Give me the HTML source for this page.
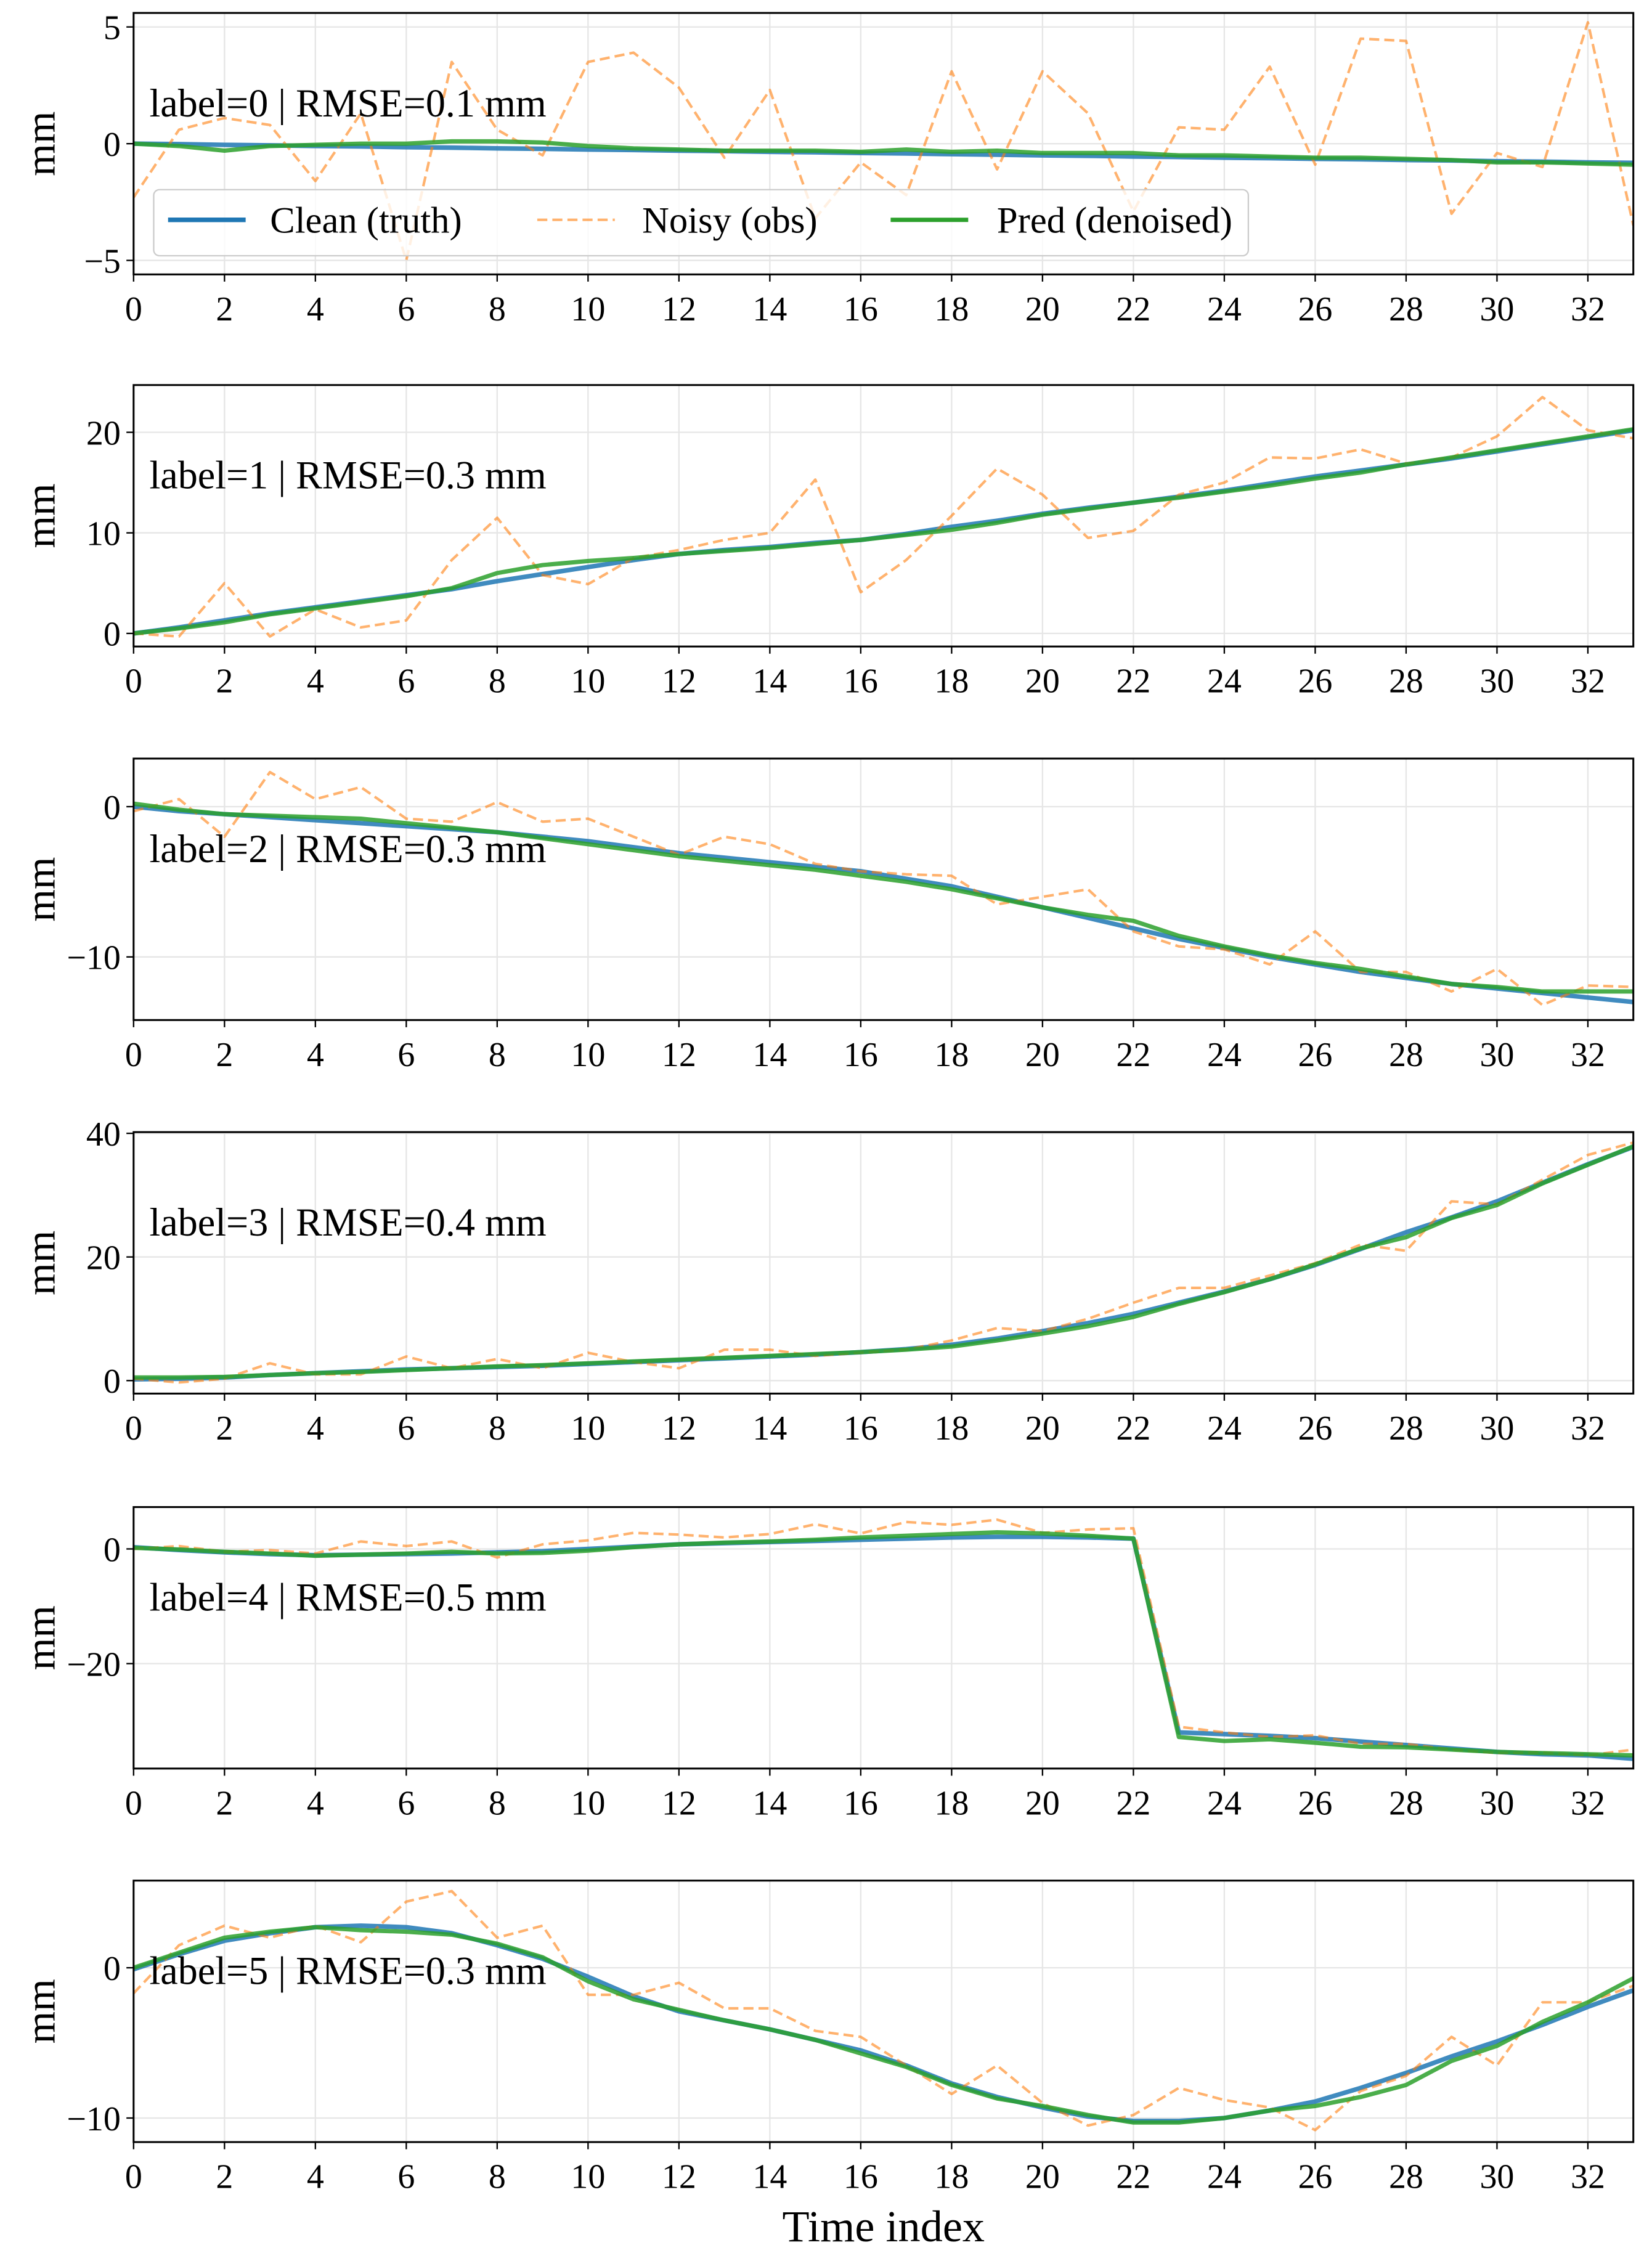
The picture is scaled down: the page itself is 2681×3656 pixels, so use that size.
<!DOCTYPE html>
<html><head><meta charset="utf-8">
<style>html,body{margin:0;padding:0;background:#fff}svg{display:block}text{font-family:"Liberation Serif",serif;fill:#000}</style>
</head><body>
<svg id="fig" width="2681" height="3656" viewBox="0 0 1150 1568.2" xmlns="http://www.w3.org/2000/svg"></svg>
<script>
const timeIdx = Array.from({length:34},(_,i)=>i);
const xTicks = [0,2,4,6,8,10,12,14,16,18,20,22,24,26,28,30,32];
const labels = ["label=0 | RMSE=0.1 mm","label=1 | RMSE=0.3 mm","label=2 | RMSE=0.3 mm","label=3 | RMSE=0.4 mm","label=4 | RMSE=0.5 mm","label=5 | RMSE=0.3 mm"];
const yTicks0=[-5,0,5], yTicks1=[0,10,20], yTicks2=[-10,0], yTicks3=[0,20,40], yTicks4=[-20,0], yTicks5=[-10,0];
const yLim0=[-5.6,5.6], yLim1=[-1.3,24.7], yLim2=[-14.2,3.2], yLim3=[-2.1,40.2], yLim4=[-38.3,7.3], yLim5=[-11.6,5.8];
const clean0=[0,-0.02,-0.05,-0.07,-0.1,-0.12,-0.15,-0.17,-0.2,-0.22,-0.25,-0.27,-0.3,-0.32,-0.35,-0.37,-0.4,-0.42,-0.45,-0.47,-0.5,-0.52,-0.55,-0.57,-0.6,-0.62,-0.65,-0.67,-0.7,-0.72,-0.75,-0.77,-0.8,-0.82];
const noisy0=[-2.3,0.6,1.1,0.8,-1.6,1.3,-5.0,3.5,0.6,-0.5,3.5,3.9,2.4,-0.6,2.3,-3.2,-0.8,-2.2,3.1,-1.1,3.1,1.3,-2.9,0.7,0.6,3.3,-0.9,4.5,4.4,-3.0,-0.4,-1.0,5.2,-3.5];
const pred0=[0,-0.1,-0.3,-0.1,-0.05,0,0,0.1,0.1,0.05,-0.1,-0.2,-0.25,-0.3,-0.3,-0.3,-0.35,-0.25,-0.35,-0.3,-0.4,-0.4,-0.4,-0.5,-0.5,-0.55,-0.6,-0.6,-0.65,-0.7,-0.8,-0.8,-0.85,-0.9];
const clean1=[0,0.6,1.3,2,2.6,3.2,3.8,4.4,5.2,5.9,6.6,7.3,7.9,8.3,8.6,9.0,9.3,9.9,10.6,11.2,11.9,12.5,13.0,13.6,14.2,14.9,15.6,16.2,16.8,17.4,18.1,18.8,19.5,20.2];
const noisy1=[0,-0.3,5.0,-0.3,2.4,0.6,1.3,7.3,11.5,5.8,4.9,7.5,8.3,9.3,10.0,15.3,4.1,7.3,11.7,16.4,13.8,9.5,10.2,13.8,15.0,17.5,17.4,18.3,16.9,17.5,19.6,23.5,20.2,19.4];
const pred1=[0,0.5,1.1,1.9,2.5,3.1,3.7,4.5,6.0,6.8,7.2,7.5,7.9,8.2,8.5,8.9,9.3,9.8,10.3,11.0,11.8,12.4,13.0,13.5,14.1,14.7,15.4,16.0,16.8,17.5,18.2,18.9,19.6,20.3];
const clean2=[0,-0.3,-0.5,-0.7,-0.9,-1.1,-1.3,-1.5,-1.7,-2.0,-2.3,-2.7,-3.1,-3.4,-3.7,-4.0,-4.3,-4.8,-5.3,-6.0,-6.7,-7.4,-8.1,-8.8,-9.4,-10.0,-10.5,-11.0,-11.4,-11.8,-12.1,-12.4,-12.7,-13.0];
const noisy2=[-0.3,0.5,-2.0,2.3,0.5,1.3,-0.8,-1.0,0.3,-1.0,-0.8,-2.0,-3.2,-2.0,-2.5,-3.8,-4.3,-4.5,-4.6,-6.5,-6.0,-5.5,-8.3,-9.3,-9.5,-10.5,-8.3,-11.0,-11.0,-12.3,-10.8,-13.2,-11.9,-12.0];
const pred2=[0.2,-0.2,-0.5,-0.6,-0.7,-0.8,-1.1,-1.4,-1.7,-2.1,-2.5,-2.9,-3.3,-3.6,-3.9,-4.2,-4.6,-5.0,-5.5,-6.1,-6.7,-7.2,-7.6,-8.6,-9.3,-9.9,-10.4,-10.8,-11.3,-11.8,-12.0,-12.3,-12.3,-12.3];
const clean3=[0.2,0.3,0.5,0.9,1.2,1.5,1.8,2.0,2.2,2.4,2.7,3.0,3.3,3.6,3.9,4.2,4.6,5.1,5.8,6.8,8.0,9.3,10.8,12.6,14.4,16.4,18.7,21.3,24.0,26.4,29.0,32.0,35.0,37.8];
const noisy3=[0.3,-0.3,0.3,2.8,1.0,1.0,3.9,2.0,3.5,2.0,4.5,3.0,2.0,5.0,5.0,4.0,4.5,5.0,6.5,8.5,8.0,10.0,12.6,15.0,15.0,17.0,19.0,22.0,21.0,29.0,28.5,32.5,36.5,38.5];
const pred3=[0.5,0.5,0.6,0.9,1.2,1.4,1.7,2.0,2.3,2.5,2.8,3.1,3.4,3.7,4.0,4.3,4.6,5.0,5.5,6.5,7.6,8.8,10.3,12.4,14.3,16.4,18.8,21.4,23.2,26.3,28.4,31.9,34.9,37.9];
const clean4=[0.3,-0.2,-0.6,-0.9,-1.1,-1.0,-0.9,-0.8,-0.6,-0.4,0,0.4,0.8,1.0,1.2,1.4,1.6,1.8,2.0,2.1,2.1,2.0,1.8,-32.0,-32.3,-32.6,-33.0,-33.6,-34.2,-34.8,-35.4,-35.8,-36.0,-36.6];
const noisy4=[0.0,0.5,-0.5,-0.2,-0.8,1.3,0.5,1.3,-1.5,0.8,1.5,2.8,2.5,2.0,2.6,4.3,2.7,4.7,4.2,5.1,2.8,3.4,3.6,-31.0,-32.0,-32.8,-32.5,-34.0,-34.0,-35.0,-35.6,-35.5,-36.0,-35.0];
const pred4=[0.2,-0.1,-0.5,-0.8,-1.2,-1.0,-0.8,-0.5,-0.8,-0.7,-0.3,0.3,0.8,1.1,1.3,1.6,2.0,2.3,2.6,2.9,2.7,2.3,1.8,-32.8,-33.5,-33.2,-33.8,-34.5,-34.6,-35.0,-35.4,-35.6,-35.8,-36.0];
const clean5=[-0.1,0.9,1.8,2.3,2.7,2.8,2.7,2.3,1.5,0.6,-0.6,-1.9,-2.9,-3.5,-4.1,-4.8,-5.5,-6.5,-7.7,-8.6,-9.3,-9.9,-10.2,-10.2,-10.0,-9.5,-8.9,-8.0,-7.0,-5.9,-4.9,-3.8,-2.6,-1.5];
const noisy5=[-1.7,1.5,2.8,2.0,2.8,1.7,4.4,5.1,2.0,2.8,-1.8,-1.8,-1.0,-2.7,-2.7,-4.2,-4.6,-6.5,-8.4,-6.5,-9.0,-10.5,-9.8,-8.0,-8.8,-9.3,-10.8,-8.2,-7.2,-4.6,-6.5,-2.3,-2.3,-1.2];
const pred5=[0,1.0,2.0,2.4,2.7,2.5,2.4,2.2,1.6,0.7,-0.9,-2.1,-2.8,-3.5,-4.1,-4.8,-5.7,-6.6,-7.8,-8.7,-9.2,-9.8,-10.3,-10.3,-10.0,-9.5,-9.2,-8.6,-7.8,-6.2,-5.2,-3.6,-2.3,-0.7];

const cleans=[clean0,clean1,clean2,clean3,clean4,clean5];
const noisys=[noisy0,noisy1,noisy2,noisy3,noisy4,noisy5];
const preds=[pred0,pred1,pred2,pred3,pred4,pred5];
const yTickSets=[yTicks0,yTicks1,yTicks2,yTicks3,yTicks4,yTicks5];
const yLims=[yLim0,yLim1,yLim2,yLim3,yLim4,yLim5];

const NS="http://www.w3.org/2000/svg";
const svg=document.getElementById('fig');
function mk(tag,attrs,parent){const e=document.createElementNS(NS,tag);for(const k in attrs)e.setAttribute(k,attrs[k]);(parent||svg).appendChild(e);return e;}
const L=93,R=1137,H=182,tops=[9,268,528,788,1049,1309];
const xScale=v=>L+(v-0)/(33-0)*(R-L);

for(let p=0;p<6;p++){
  const top=tops[p],bot=top+H,yl=yLims[p];
  const yScale=v=>bot-(v-yl[0])/(yl[1]-yl[0])*H;
  const g=mk('g',{});
  
  
  for(const t of xTicks){const l=mk('line',{x1:xScale(t),x2:xScale(t),y1:top,y2:bot,stroke:'#e6e6e6','stroke-width':1},g);
    }
  for(const t of yTickSets[p]){const l=mk('line',{x1:L,x2:R,y1:yScale(t),y2:yScale(t),stroke:'#e6e6e6','stroke-width':1},g);
    }
  const series=[[cleans[p],{stroke:'#1f77b4','stroke-opacity':0.85,'stroke-width':3.2},'clean-line'],
                [noisys[p],{stroke:'#ff7f0e','stroke-opacity':0.6,'stroke-width':1.8,'stroke-dasharray':'7,3.5'},'noisy-line'],
                [preds[p],{stroke:'#2ca02c','stroke-opacity':0.85,'stroke-width':3},'pred-line']];
  const clip=mk('clipPath',{id:'c'+p},g);mk('rect',{x:L,y:top,width:R-L,height:H},clip);
  for(const [d,st,nm] of series){
    const pts=d.map((v,i)=>xScale(timeIdx[i]).toFixed(2)+','+yScale(v).toFixed(2)).join(' ');
    const pl=mk('polyline',Object.assign({points:pts,fill:'none','stroke-linejoin':'round','clip-path':'url(#c'+p+')'},st),g);
    
  }
  const fr=mk('rect',{x:L,y:top,width:R-L,height:H,fill:'none',stroke:'#000','stroke-width':1.3},g);
  
  for(const t of xTicks){mk('line',{x1:xScale(t),x2:xScale(t),y1:bot,y2:bot+5,stroke:'#000','stroke-width':1},g);
    const tx=mk('text',{x:xScale(t),y:bot+32,'font-size':24,'text-anchor':'middle'},g);tx.textContent=t;
    }
  for(const t of yTickSets[p]){mk('line',{x1:L-5,x2:L,y1:yScale(t),y2:yScale(t),stroke:'#000','stroke-width':1},g);
    const tx=mk('text',{x:L-9,y:yScale(t)+8.5,'font-size':24,'text-anchor':'end'},g);tx.textContent=String(t).replace('-','\u2212');
    }
  const yt=mk('text',{x:0,y:0,'font-size':29,'text-anchor':'middle',transform:`translate(38,${top+H/2}) rotate(-90)`},g);yt.textContent='mm';
  
  const an=mk('text',{x:104,y:top+72,'font-size':27.5},g);an.textContent=labels[p];
  
}
// legend
const lg=mk('g',{});


mk('rect',{x:107,y:132,width:762,height:46,rx:4,fill:'#fff','fill-opacity':0.8,stroke:'#ccc','stroke-width':1},lg);
const entries=[['Clean (truth)',117,188,{stroke:'#1f77b4','stroke-width':3.2}],['Noisy (obs)',374,447,{stroke:'#ff7f0e','stroke-opacity':0.6,'stroke-width':1.8,'stroke-dasharray':'7,3.5'}],['Pred (denoised)',620,694,{stroke:'#2ca02c','stroke-width':3}]];
for(const [t,x1,tx,st] of entries){
  mk('line',Object.assign({x1:x1,x2:x1+54,y1:153,y2:153},st),lg);
  const e=mk('text',{x:tx,y:162,'font-size':26},lg);e.textContent=t;
  
}
const xt=mk('text',{x:615,y:1560,'font-size':31,'text-anchor':'middle'});xt.textContent='Time index';


</script>
</body></html>
